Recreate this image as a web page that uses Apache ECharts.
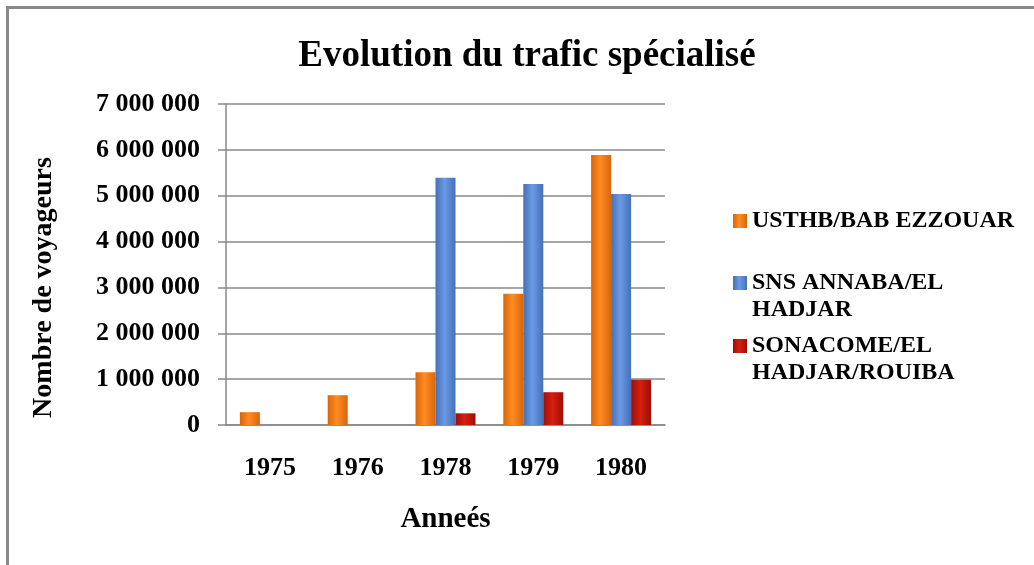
<!DOCTYPE html>
<html>
<head>
<meta charset="utf-8">
<script src="https://cdn.jsdelivr.net/npm/echarts@6/dist/echarts.min.js"></script>
<style>
  html, body { margin: 0; padding: 0; background: #fff; }
  #main { width: 1034px; height: 565px; }
</style>
</head>
<body>
<div id="main"></div>
<script>
// données
var annees = ['1975', '1976', '1978', '1979', '1980'];
var usthb = [280000, 650000, 1150000, 2860000, 5890000];
var sns = [null, null, 5390000, 5255000, 5035000];
var sonacome = [null, null, 255000, 715000, 985000];
var nomsSeries = ['USTHB/BAB EZZOUAR', 'SNS ANNABA/EL\nHADJAR', 'SONACOME/EL\nHADJAR/ROUIBA'];

var police = '"Liberation Serif", "Times New Roman", serif';

function degrade(bord, centre) {
  return new echarts.graphic.LinearGradient(0, 0, 1, 0, [
    {offset: 0, color: bord},
    {offset: 0.45, color: centre},
    {offset: 1, color: bord}
  ]);
}

// format "7 000 000"
function milliers(v) {
  return String(v).replace(/\B(?=(\d{3})+(?!\d))/g, ' ');
}

// une légende par série, l'icône alignée sur la première ligne
function legende(nom, centreY, lignes) {
  var nbLignes = lignes > 1 ? 2 * lignes - 1 : 1;
  return {
    orient: 'vertical',
    left: 733,
    top: centreY - 27 * nbLignes / 2,
    padding: 0,
    itemWidth: 14,
    itemHeight: 14,
    icon: 'rect',
    data: [nom],
    formatter: function (n) {
      return lignes > 1 ? '\n' + n : n;
    },
    textStyle: {
      fontFamily: police,
      fontWeight: 'bold',
      fontSize: 24,
      color: '#000',
      lineHeight: 27
    }
  };
}

var myChart = echarts.init(document.getElementById('main'));
var option = {
  backgroundColor: '#fff',
  animation: false,
  title: {
    text: 'Evolution du trafic spécialisé',
    left: 527,
    textAlign: 'center',
    top: 38,
    padding: 0,
    textStyle: {fontFamily: police, fontWeight: 'bold', fontSize: 37, color: '#000'}
  },
  legend: [
    legende(nomsSeries[0], 221, 1),
    legende(nomsSeries[1], 283, 2),
    legende(nomsSeries[2], 346, 2)
  ],
  grid: {left: 226, right: 369, top: 104, bottom: 140},
  xAxis: {
    type: 'category',
    data: annees,
    name: 'Anneés',
    nameLocation: 'middle',
    nameGap: 80,
    nameTextStyle: {fontFamily: police, fontWeight: 'bold', fontSize: 29, color: '#000'},
    axisLine: {lineStyle: {color: '#888', width: 1.5}},
    axisTick: {show: false},
    axisLabel: {fontFamily: police, fontWeight: 'bold', fontSize: 26, color: '#000', margin: 30}
  },
  yAxis: {
    type: 'value',
    min: 0,
    max: 7000000,
    interval: 1000000,
    name: 'Nombre de voyageurs',
    nameLocation: 'middle',
    nameGap: 168,
    nameTextStyle: {
      fontFamily: police, fontWeight: 'bold', fontSize: 28, color: '#000',
      padding: [0, 46, 0, 0]
    },
    axisLine: {show: true, lineStyle: {color: '#888', width: 1.5}},
    axisTick: {show: true, length: 8, lineStyle: {color: '#888', width: 1.5}},
    splitLine: {lineStyle: {color: '#888', width: 1.5}},
    axisLabel: {
      fontFamily: police, fontWeight: 'bold', fontSize: 26, color: '#000', margin: 26,
      formatter: milliers
    }
  },
  series: [
    {
      name: nomsSeries[0], type: 'bar', data: usthb, barWidth: 20, barGap: '0%',
      itemStyle: {color: degrade('#D9650A', '#FF8C22')}
    },
    {
      name: nomsSeries[1], type: 'bar', data: sns, barWidth: 20, barGap: '0%',
      itemStyle: {color: degrade('#4570B5', '#6A9AE6')}
    },
    {
      name: nomsSeries[2], type: 'bar', data: sonacome, barWidth: 20, barGap: '0%',
      itemStyle: {color: degrade('#9E0E05', '#D42010')}
    }
  ],
  graphic: [
    {type: 'line', shape: {x1: 7.5, y1: 7, x2: 7.5, y2: 565}, style: {stroke: '#8a8a8a', lineWidth: 3}},
    {type: 'line', shape: {x1: 6, y1: 7.5, x2: 1034, y2: 7.5}, style: {stroke: '#8a8a8a', lineWidth: 3}}
  ]
};
myChart.setOption(option);
</script>
</body>
</html>
